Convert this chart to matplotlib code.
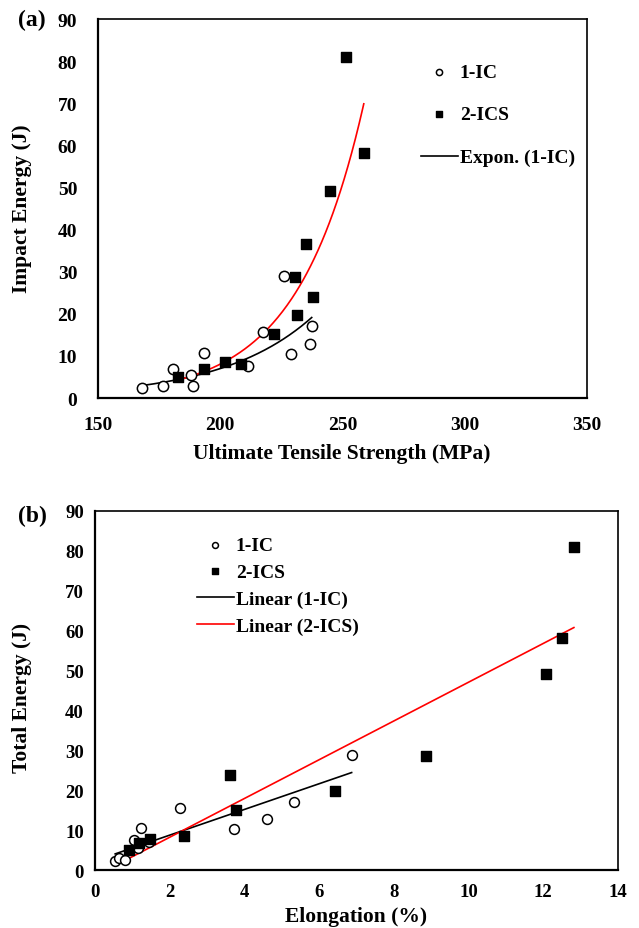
import numpy as np
import matplotlib
matplotlib.use('Agg')
import matplotlib.pyplot as plt

plt.rcParams['font.family'] = ['Liberation Serif', 'DejaVu Serif']
plt.rcParams['font.weight'] = 'bold'

# (a) Impact energy vs UTS
uts_ic = [167.9, 176.7, 180.5, 188.0, 188.9, 193.2, 211.5, 217.6, 225.9, 228.9, 236.7, 237.4]
ie_ic = [2.3, 2.8, 6.9, 5.5, 2.8, 10.6, 7.6, 15.6, 28.9, 10.5, 12.9, 17.2]
uts_ics = [182.6, 193.4, 201.8, 208.4, 221.9, 231.3, 230.7, 237.8, 235.1, 245.0, 258.7, 251.6]
ie_ics = [5.1, 7.0, 8.6, 8.1, 15.2, 19.8, 28.7, 24.1, 36.7, 49.2, 58.2, 81.0]

# (b) Total energy vs elongation
el_ic = [0.54, 0.65, 0.80, 1.05, 1.16, 1.45, 1.24, 2.28, 3.71, 4.60, 5.34, 6.87]
te_ic = [2.3, 2.9, 2.6, 7.6, 5.6, 7.0, 10.5, 15.6, 10.4, 12.9, 17.1, 28.8]
el_ics = [0.91, 1.19, 1.46, 2.39, 3.61, 3.77, 6.42, 8.85, 12.08, 12.49, 12.82]
te_ics = [5.0, 6.9, 7.8, 8.6, 23.9, 15.0, 19.8, 28.7, 49.2, 58.2, 81.0]

FS = 14
LFS = 15.5


def style_axes(ax, xpad, ypad, fs=FS):
    ax.spines['left'].set_linewidth(1.6)
    ax.spines['bottom'].set_linewidth(1.6)
    for s in ('top', 'right'):
        ax.spines[s].set_linewidth(1.2)
        ax.spines[s].set_color('black')
    ax.tick_params(length=0, labelsize=fs)
    ax.tick_params(axis='x', pad=xpad)
    ax.tick_params(axis='y', pad=ypad)
    for lab in ax.get_xticklabels() + ax.get_yticklabels():
        lab.set_fontweight('bold')


def expon_fit(x, y):
    # excel style exponential trendline: fit on log(y)
    x = np.asarray(x)
    b, a = np.polyfit(x, np.log(y), 1)
    xs = np.linspace(x.min(), x.max(), 200)
    return xs, np.exp(a) * np.exp(b * xs)


def linear_fit(x, y):
    x = np.asarray(x)
    m, c = np.polyfit(x, y, 1)
    xs = np.array([x.min(), x.max()])
    return xs, m * xs + c


fig = plt.figure(figsize=(6.39, 9.29), dpi=100)
W, H = 639, 929

# ---- panel (a)
ax1 = fig.add_axes([0.1534, 0.5705, 0.7652, 0.4075])
ax1.scatter(uts_ic, ie_ic, s=55, facecolor='white', edgecolor='black', linewidth=1.1,
            marker='o', zorder=3, label='1-IC')
ax1.scatter(uts_ics, ie_ics, s=52, color='black', marker='s', zorder=3, label='2-ICS')
xs, ys = expon_fit(uts_ic, ie_ic)
ax1.plot(xs, ys, color='black', lw=1.2, zorder=2, label='Expon. (1-IC)')
xs, ys = expon_fit(uts_ics, ie_ics)
ax1.plot(xs, ys, color='red', lw=1.2, zorder=2)
ax1.set_xlim(150, 350)
ax1.set_ylim(0, 90)
ax1.set_xticks(range(150, 351, 50))
ax1.set_yticks(range(0, 91, 10))
style_axes(ax1, 13, 15)
fig.text(342 / W, 1 - 454 / H, 'Ultimate Tensile Strength (MPa)', fontsize=LFS,
         fontweight='bold', ha='center', va='center')
fig.text(22 / W, 1 - 209 / H, 'Impact Energy (J)', fontsize=LFS, fontweight='bold',
         ha='center', va='center', rotation=90)
ax1.legend(loc='upper left', bbox_to_anchor=(421 / W, 1 - 64 / H),
           bbox_transform=fig.transFigure, frameon=False, borderpad=0, borderaxespad=0,
           fontsize=FS, labelspacing=1.3, handlelength=1.9, handletextpad=0.1,
           markerscale=0.6)
fig.text(18 / W, 1 - 20 / H, '(a)', fontsize=17, fontweight='bold', va='center')

# ---- panel (b)
ax2 = fig.add_axes([0.1487, 0.0624, 0.8184, 0.3865])
ax2.scatter(el_ic, te_ic, s=50, facecolor='white', edgecolor='black', linewidth=1.1,
            marker='o', zorder=3, label='1-IC')
ax2.scatter(el_ics, te_ics, s=52, color='black', marker='s', zorder=3, label='2-ICS')
xs, ys = linear_fit(el_ic, te_ic)
ax2.plot(xs, ys, color='black', lw=1.2, zorder=2, label='Linear (1-IC)')
xs, ys = linear_fit(el_ics, te_ics)
ax2.plot(xs, ys, color='red', lw=1.2, zorder=2, label='Linear (2-ICS)')
ax2.set_xlim(0, 14)
ax2.set_ylim(0, 90)
ax2.set_xticks(range(0, 15, 2))
ax2.set_yticks(range(0, 91, 10))
style_axes(ax2, 9.5, 8, fs=13.5)
fig.text(356 / W, 1 - 917 / H, 'Elongation (%)', fontsize=LFS, fontweight='bold',
         ha='center', va='center')
fig.text(22 / W, 1 - 698 / H, 'Total Energy (J)', fontsize=LFS, fontweight='bold',
         ha='center', va='center', rotation=90)
ax2.legend(loc='upper left', bbox_to_anchor=(197 / W, 1 - 537 / H),
           bbox_transform=fig.transFigure, frameon=False, borderpad=0, borderaxespad=0,
           fontsize=FS, labelspacing=0.48, handlelength=1.9, handletextpad=0.1,
           markerscale=0.6)
fig.text(18 / W, 1 - 516 / H, '(b)', fontsize=17, fontweight='bold', va='center')

fig.savefig('out.png', dpi=100)
